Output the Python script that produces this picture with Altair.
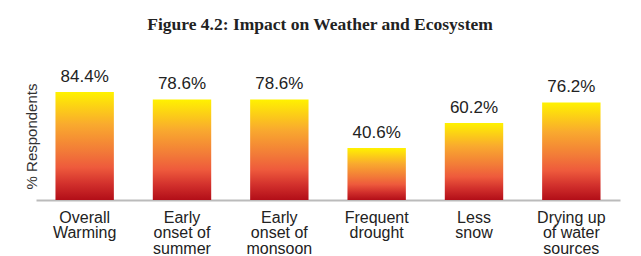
import altair as alt
import pandas as pd

categories = [
    "Overall\nWarming",
    "Early\nonset of\nsummer",
    "Early\nonset of\nmonsoon",
    "Frequent\ndrought",
    "Less\nsnow",
    "Drying up\nof water\nsources",
]
values = [84.4, 78.6, 78.6, 40.6, 60.2, 76.2]
labels = ["84.4%", "78.6%", "78.6%", "40.6%", "60.2%", "76.2%"]

df = pd.DataFrame({"cat": categories, "val": values, "lab": labels})

gradient = alt.Gradient(
    gradient="linear",
    x1=0, y1=0, x2=0, y2=1,
    stops=[
        alt.GradientStop(color="#FFF200", offset=0),
        alt.GradientStop(color="#F9AA2E", offset=0.3),
        alt.GradientStop(color="#F27A38", offset=0.55),
        alt.GradientStop(color="#EE5A3C", offset=0.7),
        alt.GradientStop(color="#D2302C", offset=0.85),
        alt.GradientStop(color="#B20E18", offset=1),
    ],
)

x = alt.X(
    "cat:N",
    sort=None,
    scale=alt.Scale(paddingInner=0.4, paddingOuter=0.2),
    axis=alt.Axis(
        title=None,
        labelAngle=0,
        labelExpr="split(datum.label, '\\n')",
        labelFont="Liberation Sans",
        labelFontSize=16,
        labelLineHeight=15.5,
        labelColor="#222222",
        labelPadding=9,
        ticks=False,
        domainColor="#BBBBBB",
        domainWidth=2,
        grid=False,
    ),
)

y = alt.Y(
    "val:Q",
    scale=alt.Scale(domain=[0, 100]),
    axis=alt.Axis(
        title="% Respondents",
        titleFont="Liberation Sans",
        titleFontSize=15,
        titleFontWeight="normal",
        titleColor="#333333",
        titleBaseline="alphabetic",
        titleX=0,
        titleY=64,
        titleAngle=-90,
        labels=False,
        ticks=False,
        domain=False,
        grid=False,
    ),
)

bars = alt.Chart(df).mark_bar(color=gradient).encode(x=x, y=y)

text = alt.Chart(df).mark_text(
    baseline="alphabetic",
    dy=-10,
    font="Liberation Sans",
    fontSize=17,
    color="#222222",
).encode(x=alt.X("cat:N", sort=None), y="val:Q", text="lab:N")

chart = (
    alt.layer(bars, text)
    .properties(
        width=584,
        height=128,
        title=alt.TitleParams(
            text="Figure 4.2: Impact on Weather and Ecosystem",
            font="Liberation Serif",
            fontSize=17.5,
            fontWeight="bold",
            color="#222222",
            anchor="middle",
            baseline="alphabetic",
            offset=20,
            dx=-8,
        ),
        autosize=alt.AutoSizeParams(type="none"),
        padding={"left": 28, "top": 64, "right": 13, "bottom": 56},
    )
    .configure_view(stroke=None)
)

chart.save("out.html", embed_options={"renderer": "svg", "actions": False})
